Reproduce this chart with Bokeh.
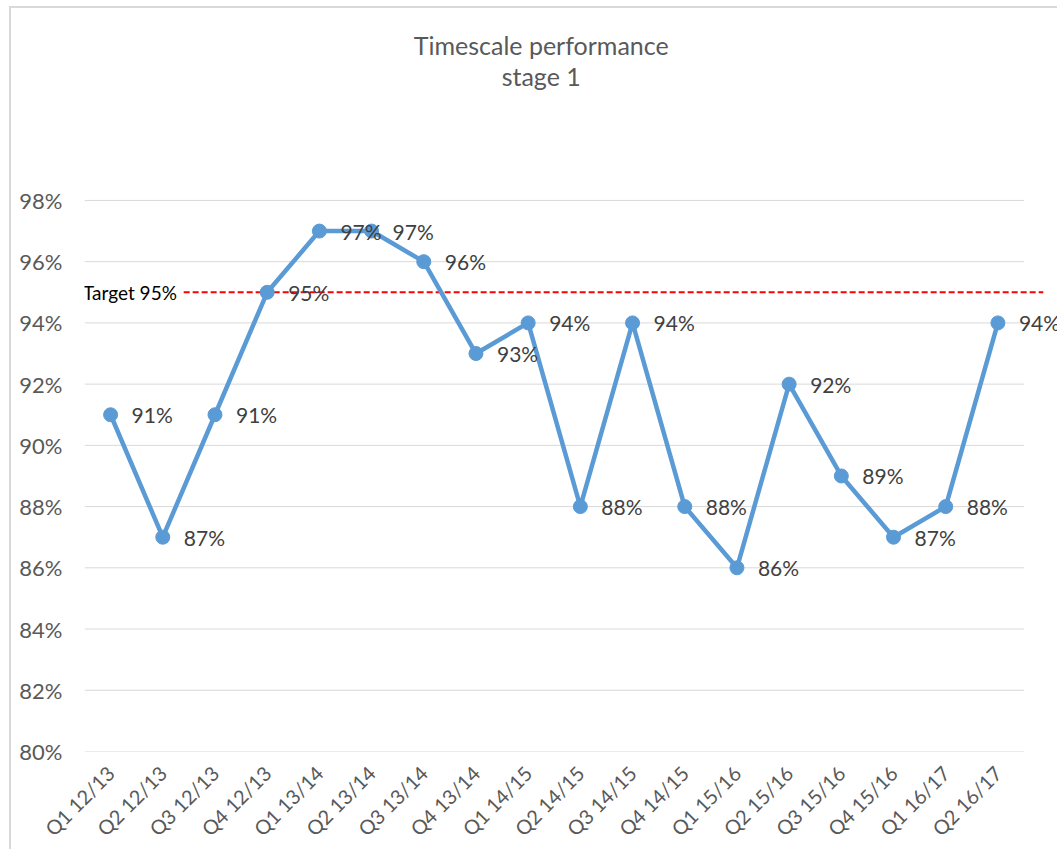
from bokeh.plotting import figure
from bokeh.models import Range1d, FixedTicker, PrintfTickFormatter, ColumnDataSource
from bokeh.core.properties import value
from bokeh.embed import file_html
from bokeh.resources import INLINE

# ---- data ----
quarters = ["Q1 12/13", "Q2 12/13", "Q3 12/13", "Q4 12/13",
            "Q1 13/14", "Q2 13/14", "Q3 13/14", "Q4 13/14",
            "Q1 14/15", "Q2 14/15", "Q3 14/15", "Q4 14/15",
            "Q1 15/16", "Q2 15/16", "Q3 15/16", "Q4 15/16",
            "Q1 16/17", "Q2 16/17"]
performance = [91, 87, 91, 95, 97, 97, 96, 93, 94, 88, 94, 88, 86, 92, 89, 87, 88, 94]
y_ticks = [80, 82, 84, 86, 88, 90, 92, 94, 96, 98]
target = 95
target_text = "Target 95%"
title_lines = ["Timescale performance", "stage 1"]

FONT = "Lato"
LINE_COLOR = "#5B9BD5"
GRID_COLOR = "#D9D9D9"
TEXT_GRAY = "#595959"

idx = list(range(len(quarters)))
n = len(quarters)
src = ColumnDataSource(dict(x=idx, y=performance,
                            lbl=[f"{v}%" for v in performance]))

# y range extends above the top tick so the title sits inside the drawing area
p = figure(width=1048, height=843, output_backend="svg", toolbar_location=None,
           x_range=Range1d(-0.5, 18.18), y_range=Range1d(y_ticks[0], 104.27),
           min_border_left=73, min_border_right=0, min_border_top=0,
           min_border_bottom=100)
p.styles = {"margin-left": "9px", "margin-top": "6px",
            "border-left": "2px solid #D9D9D9", "border-top": "2px solid #D9D9D9"}
p.outline_line_color = None
p.xgrid.visible = False
p.ygrid.visible = False

# gridlines across the category span only
p.segment(x0=[-0.5] * len(y_ticks), x1=[n - 0.5] * len(y_ticks), y0=y_ticks, y1=y_ticks,
          line_color=GRID_COLOR, line_width=1)

# target line
p.segment(x0=[1.4], x1=[17.87], y0=[target], y1=[target],
          line_color="#FF0000", line_width=2, line_dash="6 3")
p.text(x=[1.27], y=[target], text=[target_text], text_align="right",
       text_baseline="middle", text_font=value(FONT), text_font_size="19px",
       text_color="#000000")

# series
p.line("x", "y", source=src, line_color=LINE_COLOR, line_width=4.5)
p.scatter("x", "y", source=src, size=14, fill_color=LINE_COLOR, line_color=LINE_COLOR)
p.text("x", "y", text="lbl", source=src, x_offset=21, text_align="left",
       text_baseline="middle", text_font=value(FONT), text_font_size="21px",
       text_color="#404040")

# title (two centred lines)
p.text(x=[8.25, 8.25], y=[103.07, 102.05], text=title_lines, text_align="center",
       text_baseline="middle", text_font=value(FONT), text_font_size="25px",
       text_color=TEXT_GRAY)

# axes
p.xaxis.ticker = FixedTicker(ticks=idx)
p.xaxis.major_label_overrides = {i: q for i, q in enumerate(quarters)}
p.xaxis.major_label_orientation = 0.7854
p.yaxis.ticker = FixedTicker(ticks=y_ticks)
p.yaxis.formatter = PrintfTickFormatter(format="%d%%")
for ax in (p.xaxis, p.yaxis):
    ax.axis_line_color = None
    ax.major_tick_line_color = None
    ax.minor_tick_line_color = None
    ax.major_tick_out = 0
    ax.major_tick_in = 0
    ax.major_label_text_font = FONT
    ax.major_label_text_color = TEXT_GRAY
p.yaxis.major_label_text_font_size = "22px"
p.yaxis.major_label_standoff = 22
p.xaxis.major_label_text_font_size = "20px"
p.xaxis.major_label_standoff = 18

open("out.html", "w").write(file_html(p, INLINE))
